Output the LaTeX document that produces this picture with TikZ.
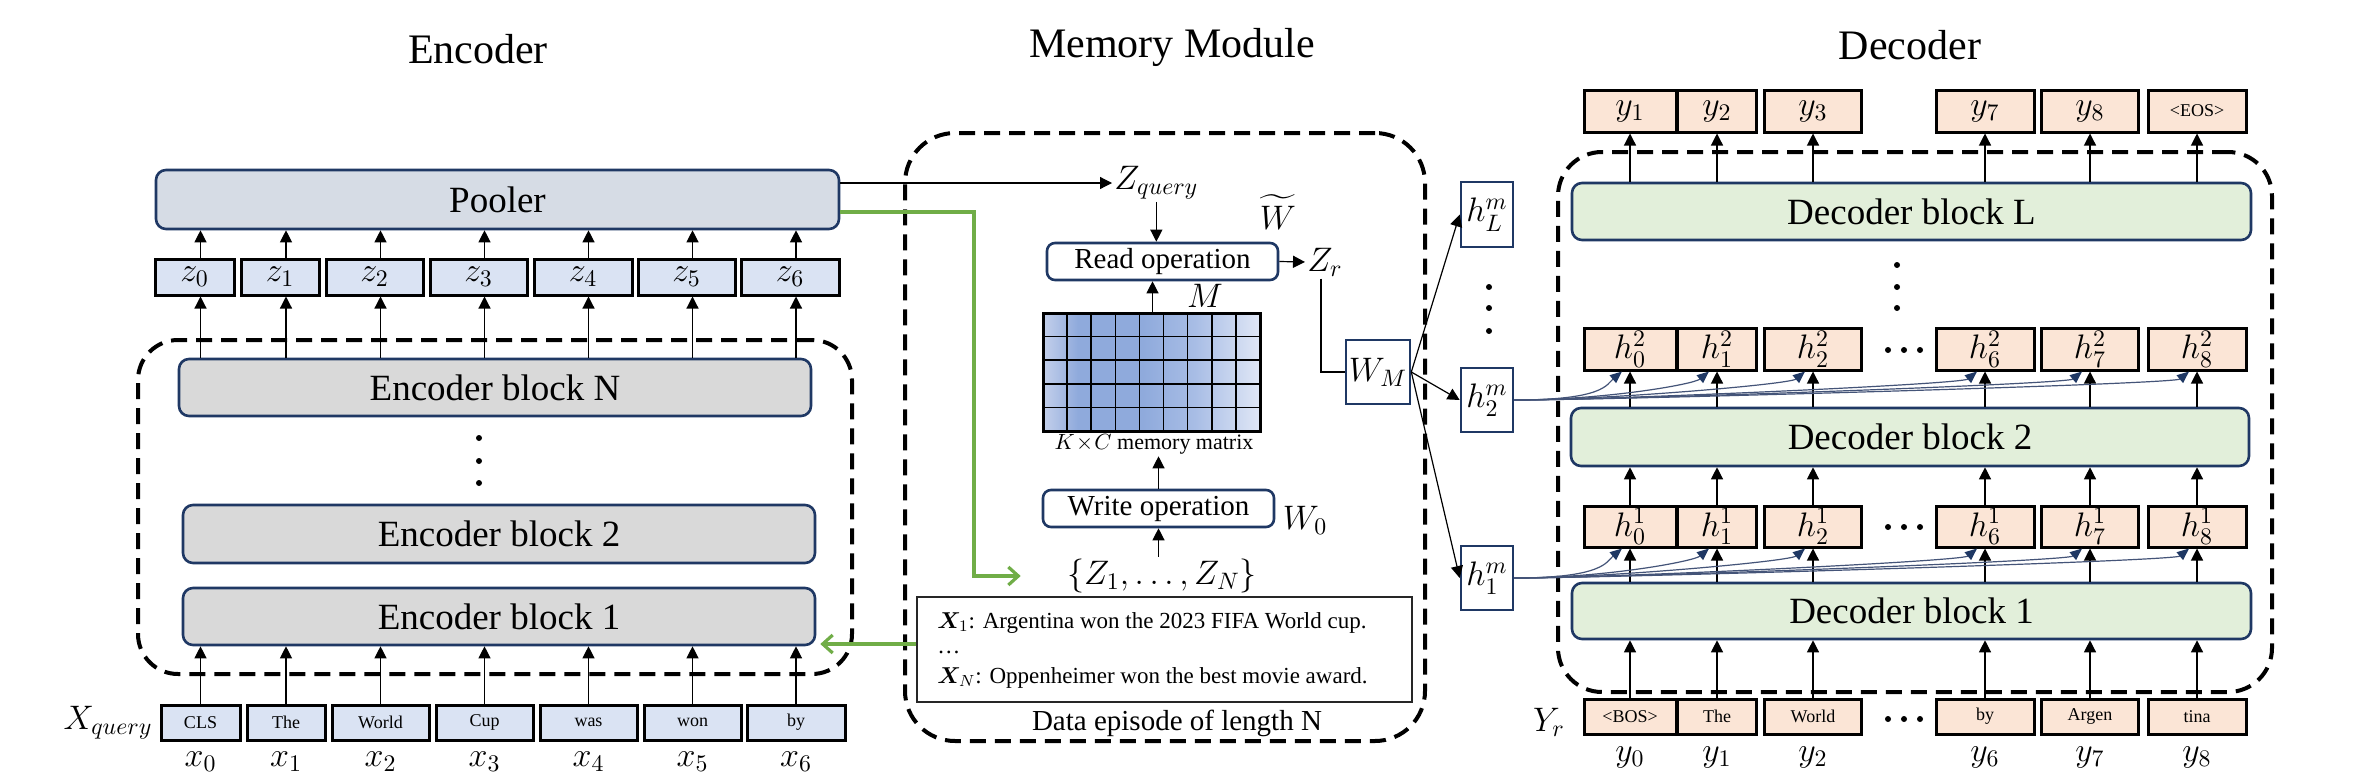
\RequirePackage{fix-cm}
\documentclass[tikz,border=0pt]{standalone}
\usepackage{amsmath}
\usepackage{bm}
\usepackage{fontspec}
\setmainfont{Liberation Serif}
\usetikzlibrary{arrows.meta,calc}
\definecolor{navy}{RGB}{31,56,100}
\definecolor{poolfill}{RGB}{214,220,229}
\definecolor{zfill}{RGB}{218,227,243}
\definecolor{encfill}{RGB}{217,217,217}
\definecolor{decfill}{RGB}{226,239,218}
\definecolor{peach}{RGB}{251,229,214}
\definecolor{grn}{RGB}{112,173,71}
\definecolor{curvecol}{RGB}{68,84,120}
\definecolor{mA}{RGB}{196,208,235}
\definecolor{mB}{RGB}{143,170,220}
\definecolor{mC}{RGB}{168,189,229}
\definecolor{mD}{RGB}{224,231,246}
\pgfdeclarehorizontalshading{memshade}{100bp}{color(0bp)=(mA); color(25bp)=(mA); color(33bp)=(mB); color(48bp)=(mB); color(60bp)=(mC); color(75bp)=(mD); color(100bp)=(mD)}
\newcommand\fTitle{\fontsize{21}{25}\selectfont}
\newcommand\fBlk{\fontsize{18.5}{22}\selectfont}
\newcommand\fTok{\fontsize{9}{11}\selectfont}
\newcommand\fMath{\fontsize{17}{20}\selectfont}
\newcommand\fOp{\fontsize{14.5}{17}\selectfont}
\newcommand\fTxt{\fontsize{11.5}{14}\selectfont}
\newcommand\fSm{\fontsize{11}{13}\selectfont}
\begin{document}
\begin{tikzpicture}[x=0.5pt,y=-0.5pt,
  arr/.style={-{Triangle[length=6pt,width=6pt]}, line width=0.6pt},
  garr/.style={grn, line width=1.6pt, -{Straight Barb[length=5pt,width=9pt]}},
  carr/.style={curvecol, line width=0.6pt, -{Triangle[length=6pt,width=5pt,color=navy]}},
  blk/.style={draw=navy, line width=1.3pt, rounded corners=5pt, inner sep=0pt},
  tokbox/.style={draw=black, line width=1.5pt, inner sep=0pt},
  nbox/.style={draw=navy, line width=1.3pt, fill=white, inner sep=0pt},
  dashbox/.style={draw=black, line width=2pt, dash pattern=on 8pt off 4.5pt, inner sep=0pt},
  dot/.style={fill=black}
]
\fill[white] (0,0) rectangle (2378,782);
\useasboundingbox (0,0) rectangle (2378,782);

% ================= ENCODER =================
\node[font=\fTitle] (tenc) at (478,49) {Encoder};
\node[dashbox, rounded corners=20pt, minimum width=357pt, minimum height=167pt] (encbox) at (495,507) {};
\node[blk, fill=poolfill, minimum width=341.5pt, minimum height=29.5pt, font=\fBlk] (pool) at (497.5,199.5) {Pooler};
\node[blk, fill=encfill, minimum width=316pt, minimum height=28.5pt, font=\fBlk] (encN) at (495,387.5) {Encoder block N};
\node[blk, fill=encfill, minimum width=316pt, minimum height=29pt, font=\fBlk] (enc2) at (499,534) {Encoder block 2};
\node[blk, fill=encfill, minimum width=316pt, minimum height=28.5pt, font=\fBlk] (enc1) at (499,616.5) {Encoder block 1};
\foreach \yy in {438,461,483} \fill[dot] (479,\yy) circle (1.5pt);
\node[font=\fMath, inner sep=1pt] (xq) at (108,723) {$X_{query}$};
\foreach \i/\tx/\tw/\zx/\zw/\tk in {0/200.5/39.5/194.5/39.5/CLS, 1/286/39/280/39/The, 2/380.5/48.5/374.5/48.5/World, 3/484.5/48.5/478.5/48.5/Cup, 4/588.5/48.5/583/49/was, 5/692.5/48.5/686.5/48.5/won, 6/796/49/790/49/by}{
  \node[tokbox, fill=zfill, minimum width=\tw*1pt, minimum height=17.5pt, font=\fTok] (t\i) at (\tx,722.5) {\tk};
  \node[font=\fMath] (xl\i) at (\tx,762) {$x_\i$};
  \node[tokbox, fill=zfill, minimum width=\zw*1pt, minimum height=18pt, font=\fMath] (z\i) at (\zx,277) {$z_\i$};
  \draw[arr] (t\i.north) -- (t\i.north |- enc1.south);
  \draw[arr] (t\i |- encN.north) -- (t\i |- z\i.south);
  \draw[arr] (t\i |- z\i.north) -- (t\i |- pool.south);
}

% ================= MEMORY =================
\node[font=\fTitle] (tmem) at (1172,47) {Memory Module};
\node[dashbox, rounded corners=25pt, minimum width=260pt, minimum height=304pt] (membox) at (1165,437) {};
\node[font=\fMath, anchor=west, inner sep=1pt] (zq) at (1112,183) {$Z_{query}$};
\draw[arr] (zq.west -| pool.east) -- (zq.west);
\node[blk, fill=white, rounded corners=4pt, minimum width=115.5pt, minimum height=18.5pt, font=\fOp] (read) at (1162.5,261.5) {Read operation};
\draw[arr] (zq.south) -- (zq.south |- read.north);
\node[font=\fMath, inner sep=0pt] (wt) at (1278,212) {$\widetilde{W}$};
\node[font=\fMath, anchor=west, inner sep=1pt] (zr) at (1305,262) {$Z_r$};
\draw[arr] (read.east) -- (zr.west);
\node[font=\fMath, inner sep=0pt] (mlab) at (1205,296) {$M$};
% memory matrix
\shade[shading=memshade] (1043,313) rectangle (1260,431);
\foreach \k in {1,...,8} \draw[line width=0.8pt] (1043+\k*24.11,313) -- (1043+\k*24.11,431);
\foreach \k in {1,...,4} \draw[line width=0.8pt] (1043,313+\k*23.6) -- (1260,313+\k*23.6);
\node[draw=black, line width=1.5pt, minimum width=108.5pt, minimum height=59pt, inner sep=0pt] (mat) at (1151.5,372) {};
\draw[arr] (read.south |- mat.north) ++(-5pt,0) coordinate (mtop) -- (mtop |- read.south);
\node[font=\fSm, inner sep=1pt] (kc) at (1154,444) {$K\!\times\! C$ memory matrix};
\node[blk, fill=white, rounded corners=4pt, minimum width=115.5pt, minimum height=18.5pt, font=\fOp] (write) at (1158.5,508.5) {Write operation};
\draw[arr] (write.north) -- (write.north |- kc.south);
\node[font=\fMath] (w0) at (1305,520) {$W_0$};
\node[font=\fMath, inner sep=1pt] (zset) at (1162,576) {$\{Z_1,\ldots,Z_N\}$};
\draw[arr] (zset.north -| write.south) -- (write.south);
\coordinate (gend) at ([xshift=-22pt]zset.west);
\draw[garr] ([yshift=-6.25pt]pool.east) -- (974,212) |- (gend);
\node[draw=black!85, line width=0.7pt, minimum width=247.5pt, minimum height=52.5pt, inner sep=0pt] (tbox) at (1164.5,649.5) {};
\node[font=\fTxt, anchor=west, inner sep=0pt] (l1) at (937,623) {$\bm{X}_1$: Argentina won the 2023 FIFA World cup.};
\node[font=\fTxt, anchor=west, inner sep=0pt] (l2) at (937,652) {\ldots};
\node[font=\fTxt, anchor=west, inner sep=0pt] (l3) at (937,678) {$\bm{X}_N$: Oppenheimer won the best movie award.};
\draw[garr] ([yshift=2.75pt]tbox.west) -- ([yshift=2.75pt,xshift=2pt]tbox.west -| enc1.east);
\node[font=\fOp] (dep) at (1177,723) {Data episode of length N};
\node[nbox, minimum width=32pt, minimum height=32pt, font=\fMath] (wm) at (1378,372) {$W_M$};
\draw[line width=0.6pt] ([xshift=-2pt]zr.south) |- (wm.west);

% ================= H^m =================
\node[nbox, minimum width=26pt, minimum height=32.5pt, font=\fMath] (hmL) at (1487,214.5) {$h_L^m$};
\node[nbox, minimum width=26pt, minimum height=32pt, font=\fMath] (hm2) at (1487,400) {$h_2^m$};
\node[nbox, minimum width=26pt, minimum height=32pt, font=\fMath] (hm1) at (1487,578) {$h_1^m$};
\draw[arr] (wm.east) -- (hmL.west);
\draw[arr] (wm.east) -- (hm2.west);
\draw[arr] (wm.east) -- (hm1.west);
\foreach \yy in {287,308,331} \fill[dot] (1489,\yy) circle (1.5pt);

% ================= DECODER =================
\node[font=\fTitle] (tdec) at (1910,45) {Decoder};
\node[dashbox, rounded corners=22pt, minimum width=357pt, minimum height=270pt] (decbox) at (1915,422) {};
\node[blk, fill=decfill, minimum width=339.5pt, minimum height=28.5pt, font=\fBlk] (decL) at (1911.5,211.5) {Decoder block L};
\node[blk, fill=decfill, minimum width=339pt, minimum height=29pt, font=\fBlk] (dec2) at (1910,437) {Decoder block 2};
\node[blk, fill=decfill, minimum width=339.5pt, minimum height=28pt, font=\fBlk] (dec1) at (1911.5,611) {Decoder block 1};
\foreach \yy in {265,287,308} \fill[dot] (1897,\yy) circle (1.5pt);
\foreach \yy in {350,527,719} {\foreach \xx in {1888,1904,1920} \fill[dot] (\xx,\yy) circle (1.5pt);}
\node[font=\fMath] (yrl) at (1549,722) {$Y_r$};
\foreach \i/\cx/\w/\tk/\ot in {0/1630/46/{<BOS>}/{$y_1$}, 1/1717/39.5/The/{$y_2$}, 2/1813/48.5/World/{$y_3$}, 6/1985/49/by/{$y_7$}, 7/2090/48.5/Argen/{$y_8$}, 8/2197/49/tina/{\fTok <EOS>}}{
  \node[tokbox, fill=peach, minimum width=\w*1pt, minimum height=17.5pt, font=\fTok] (yr\i) at (\cx,716.5) {\tk};
  \node[font=\fMath] (yl\i) at (\cx,757) {$y_\i$};
  \node[tokbox, fill=peach, minimum width=\w*1pt, minimum height=20.5pt, font=\fMath] (ha\i) at (\cx,526.5) {$h^1_\i$};
  \node[tokbox, fill=peach, minimum width=\w*1pt, minimum height=21pt, font=\fMath] (hb\i) at (\cx,349) {$h^2_\i$};
  \node[tokbox, fill=peach, minimum width=\w*1pt, minimum height=21pt, font=\fMath] (ob\i) at (\cx,111) {\ot};
  \draw[arr] (yr\i.north) -- (yr\i.north |- dec1.south);
  \draw[arr] (ha\i.south |- dec1.north) -- (ha\i.south);
  \draw[arr] (ha\i.north) -- (ha\i.north |- dec2.south);
  \draw[arr] (hb\i.south |- dec2.north) -- (hb\i.south);
  \draw[arr] (ob\i.south |- decL.north) -- (ob\i.south);
  \draw[carr] (hm2.east) to[out=0, in=-140, out distance=45pt, in distance=10pt] ([xshift=-4pt]hb\i.south);
  \draw[carr] (hm1.east) to[out=0, in=-140, out distance=45pt, in distance=10pt] ([xshift=-4pt]ha\i.south);
}
\end{tikzpicture}
\end{document}
